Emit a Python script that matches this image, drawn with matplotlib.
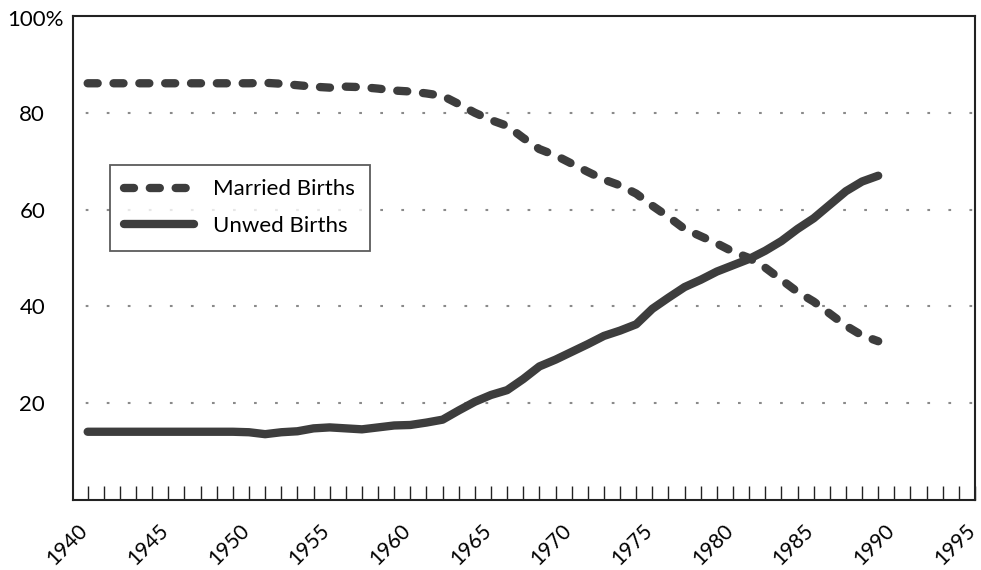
import matplotlib
matplotlib.use("Agg")
import matplotlib.pyplot as plt
import matplotlib.transforms as mtransforms
import numpy as np

years = list(range(1940, 1990))
unwed = [14.1, 14.1, 14.1, 14.1, 14.1, 14.1, 14.1, 14.1, 14.1, 14.1,
         14.0, 13.6, 14.0, 14.2, 14.8, 15.0, 14.8, 14.6, 15.0, 15.4,
         15.5, 16.0, 16.6, 18.5, 20.3, 21.7, 22.7, 25.0, 27.6, 29.0,
         30.6, 32.2, 33.9, 35.0, 36.3, 39.5, 41.8, 44.0, 45.5, 47.2,
         48.5, 49.8, 51.5, 53.5, 56.0, 58.2, 61.0, 63.8, 65.8, 67.0]
married = [86.1, 86.1, 86.1, 86.1, 86.1, 86.1, 86.1, 86.1, 86.1, 86.1,
           86.1, 86.2, 86.0, 85.7, 85.4, 85.2, 85.4, 85.3, 85.0, 84.6,
           84.4, 84.0, 83.5, 81.8, 80.0, 78.5, 77.3, 74.8, 72.5, 71.2,
           69.5, 67.8, 66.2, 65.0, 63.3, 60.8, 58.5, 56.0, 54.5, 53.0,
           51.3, 50.0, 48.0, 45.5, 43.0, 41.0, 38.5, 36.0, 34.0, 32.8]
series_labels = ["Married Births", "Unwed Births"]
xtick_years = list(range(1940, 1996, 5))
ytick_vals = [20, 40, 60, 80]

plt.rcParams['font.family'] = ['Lato', 'DejaVu Sans']
FS = 16

fig = plt.figure(figsize=(9.81, 5.70), dpi=100)
W, H = 981, 570
ax = fig.add_axes([73 / W, 1 - 500 / H, (975 - 73) / W, (500 - 16) / H])

line_color = '#3d3d3d'
ax.plot(years, married, color=line_color, lw=6.0, linestyle=(0, (1.2, 1.9)),
        dash_capstyle='round', solid_capstyle='round', label=series_labels[0])
ax.plot(years, unwed, color=line_color, lw=6.0, solid_capstyle='round',
        label=series_labels[1])

ax.set_xlim(1939.09, 1995)
ax.set_ylim(0, 100)

# dotted gridlines
for v in ytick_vals:
    ax.axhline(v, color='#8a8a8a', lw=1.5, linestyle=(4, (1.3, 8.8)), zorder=0)

ax.set_yticks(ytick_vals)
ax.set_yticklabels([str(v) for v in ytick_vals], fontsize=FS)
ax.tick_params(axis='y', length=0, pad=20)
fig.text(64 / W, 1 - 20 / H, "100%", ha='right', va='center', fontsize=FS)

ax.set_xticks(xtick_years)
ax.set_xticklabels([str(y) for y in xtick_years], fontsize=15, rotation=45,
                   ha='right', va='center', rotation_mode='anchor')
ax.set_xticks(list(range(1940, 1995)), minor=True)
ax.tick_params(axis='x', which='both', direction='in', length=10, width=1,
               color='#222222', pad=20)
offset = mtransforms.ScaledTranslation(-3 / 100, 0, fig.dpi_scale_trans)
for lab in ax.get_xticklabels():
    lab.set_transform(lab.get_transform() + offset)

for s in ax.spines.values():
    s.set_linewidth(1.5)
    s.set_color('#222222')

leg = ax.legend(loc='upper left', bbox_to_anchor=(110 / W, 1 - 165 / H),
                bbox_transform=fig.transFigure, fontsize=FS, frameon=True,
                fancybox=False, edgecolor='#333333', handlelength=3.15,
                handletextpad=0.85, borderpad=0.65, labelspacing=0.75,
                borderaxespad=0)
leg.get_frame().set_linewidth(1.3)

fig.savefig("out.png", dpi=100)
